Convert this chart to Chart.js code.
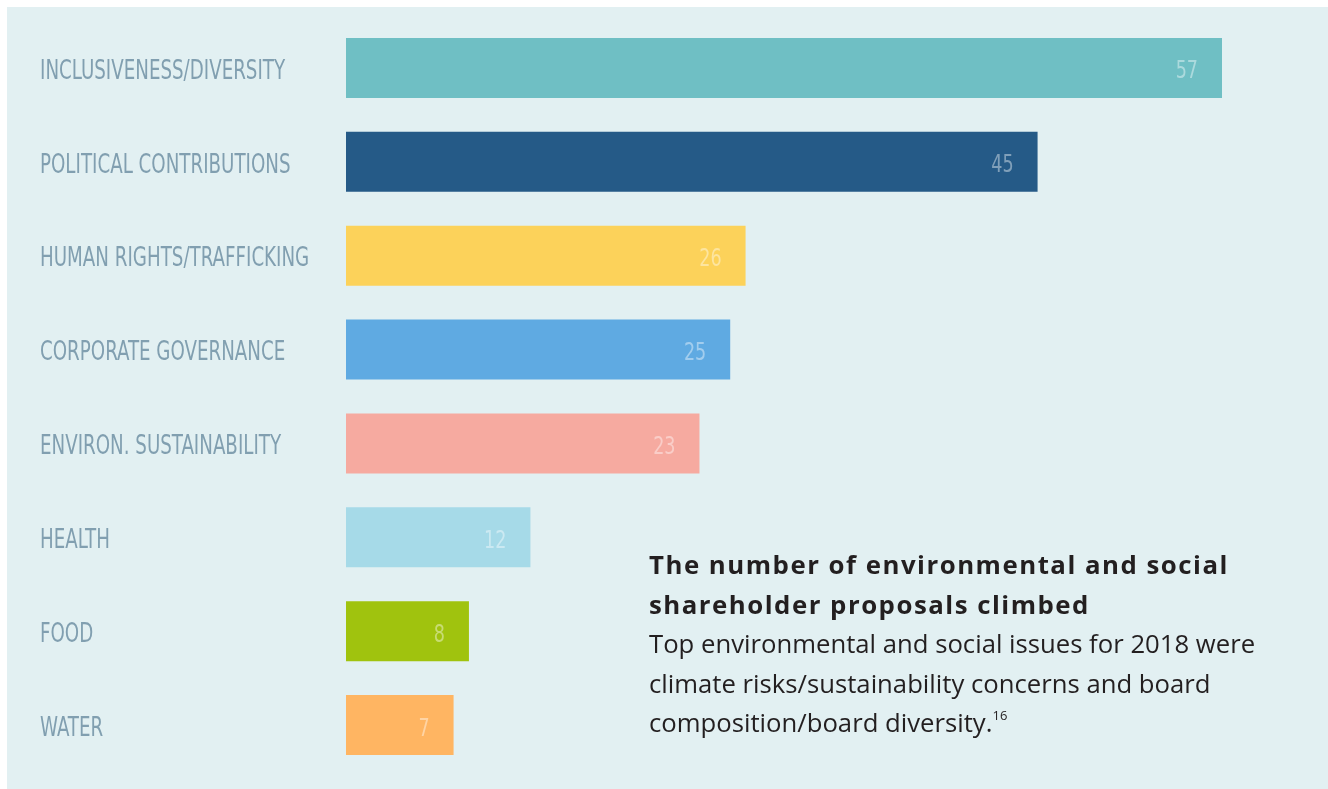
<!DOCTYPE html>
<html>
<head>
<meta charset="utf-8">
<script src="https://cdn.jsdelivr.net/npm/chart.js@4"></script>
<style>
	html, body { margin: 0; padding: 0; background: #ffffff; }
	#wrap { position: relative; width: 1328px; height: 789px; overflow: hidden; }
	#panel { position: absolute; left: 7px; top: 7px; right: 0; bottom: 0; background: #e2f0f2; }
	#chart { position: absolute; left: 0; top: 0; }
	#note {
		position: absolute; left: 649px; top: 545px; width: 675px;
		font-family: 'Open Sans', 'Noto Sans', sans-serif; color: #231f20;
		font-size: 25.7px; line-height: 39.5px;
	}
	#note b { font-weight: 700; letter-spacing: 1.5px; font-size: 25.8px; }
	#note sup { font-size: 13px; vertical-align: 12px; line-height: 0; }
</style>
</head>
<body>
<div id="wrap">
	<div id="panel"></div>
	<canvas id="chart" width="1328" height="789"></canvas>
	<div id="note">
		<b>The number of environmental and social<br>shareholder proposals climbed</b><br>
		Top environmental and social issues for 2018 were<br>
		climate risks/sustainability concerns and board<br>
		composition/board diversity.<sup>16</sup>
	</div>
</div>
<script>
// ---------- Data ----------
var issueLabels = [
	'INCLUSIVENESS/DIVERSITY',
	'POLITICAL CONTRIBUTIONS',
	'HUMAN RIGHTS/TRAFFICKING',
	'CORPORATE GOVERNANCE',
	'ENVIRON. SUSTAINABILITY',
	'HEALTH',
	'FOOD',
	'WATER'
];
var proposalCounts = [57, 45, 26, 25, 23, 12, 8, 7];
var barColors = ['#6fbfc4', '#255a87', '#fcd25a', '#5faae2', '#f6aaa0', '#a6dae8', '#a0c30e', '#ffb562'];

// the original uses a condensed face; squeeze a regular condensed font horizontally
var labelFont = "'DejaVu Sans Condensed', 'DejaVu Sans', sans-serif";
var squeeze = 0.78;

// ---------- Category labels (left) and value labels (inside bars) ----------
var textLabels = {
	id: 'textLabels',
	afterDatasetsDraw: function (chart) {
		var ctx = chart.ctx;
		var yScale = chart.scales.y;
		var meta = chart.getDatasetMeta(0);
		ctx.save();
		ctx.textBaseline = 'middle';

		ctx.font = '26px ' + labelFont;
		ctx.fillStyle = '#819fb0';
		ctx.textAlign = 'left';
		issueLabels.forEach(function (label, i) {
			var y = yScale.getPixelForTick(i);
			ctx.save();
			ctx.translate(40, y + 4);
			ctx.scale(squeeze, 1);
			ctx.fillText(label, 0, 0);
			ctx.restore();
		});

		ctx.font = '25px ' + labelFont;
		ctx.fillStyle = 'rgba(255,255,255,0.42)';
		ctx.textAlign = 'right';
		meta.data.forEach(function (bar, i) {
			ctx.save();
			ctx.translate(bar.x - 24, bar.y + 4);
			ctx.scale(squeeze, 1);
			ctx.fillText(String(proposalCounts[i]), 0, 0);
			ctx.restore();
		});
		ctx.restore();
	}
};

new Chart(document.getElementById('chart').getContext('2d'), {
	type: 'bar',
	data: {
		labels: issueLabels,
		datasets: [{
			data: proposalCounts,
			backgroundColor: barColors,
			borderWidth: 0,
			categoryPercentage: 1,
			barPercentage: 0.64
		}]
	},
	options: {
		indexAxis: 'y',
		responsive: false,
		animation: false,
		layout: { padding: { left: 40, top: 21, right: 106, bottom: 17 } },
		scales: {
			x: {
				min: 0,
				max: 57,
				display: false,
				grid: { display: false }
			},
			y: {
				border: { display: false },
				grid: { display: false },
				afterFit: function (scale) { scale.width = 306; },
				ticks: { display: false }
			}
		},
		plugins: {
			legend: { display: false },
			tooltip: { enabled: false }
		}
	},
	plugins: [textLabels]
});
</script>
</body>
</html>
